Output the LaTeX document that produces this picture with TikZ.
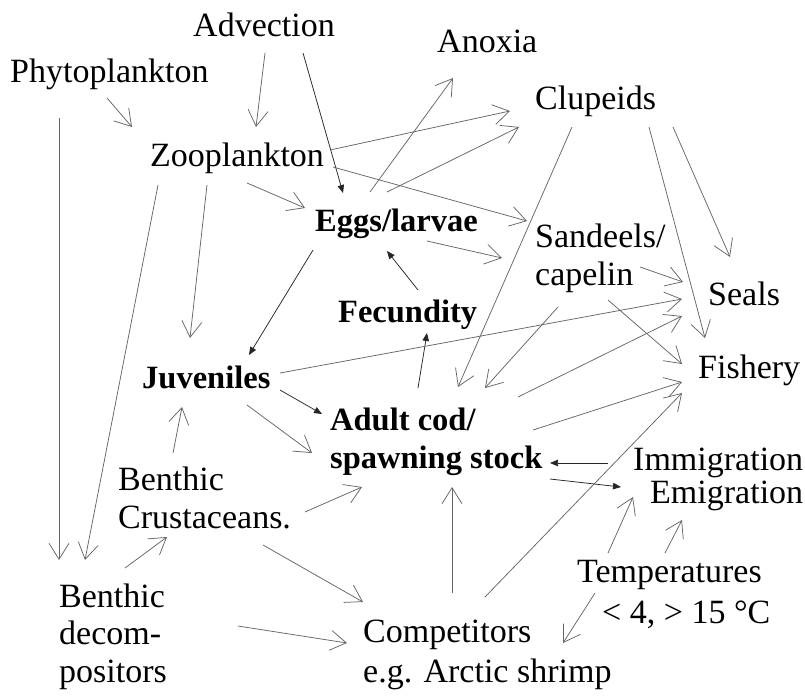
\documentclass[tikz,border=0pt]{standalone}
\usepackage{fontspec}
\setmainfont{Liberation Serif}
\usetikzlibrary{arrows.meta}
\newcommand{\mlines}[1]{\begin{tabular}[t]{@{}l@{}}#1\end{tabular}}
\begin{document}
\begin{tikzpicture}[x=1pt,y=-1pt,
  lbl/.style={anchor=base west,inner sep=0pt,font=\fontsize{34}{38.5}\selectfont},
  blbl/.style={lbl,font=\fontsize{32.5}{38}\selectfont\bfseries},
  oa/.style={draw=black!60,line width=0.75pt,-{Straight Barb[length=16pt,width=20pt,line width=0.75pt]}},
  fa/.style={draw=black!85,line width=0.75pt,-{Triangle[length=8pt,width=6.5pt]}}]
\useasboundingbox[fill=white] (0,0) rectangle (805,696);
% nodes
\node[lbl] (adv) at (193,36) {Advection};
\node[lbl] (phy) at (10,82) {Phytoplankton};
\node[lbl] (zoo) at (150,166) {Zooplankton};
\node[blbl] (egg) at (315,231) {Eggs/larvae};
\node[lbl] (anox) at (437,52) {Anoxia};
\node[lbl] (clu) at (535,109) {Clupeids};
\node[lbl] (sand) at (535,247) {\mlines{Sandeels/\\capelin}};
\node[lbl] (seal) at (708,305) {Seals};
\node[lbl] (fish) at (698,378) {Fishery};
\node[blbl] (fec) at (338,322) {Fecundity};
\node[blbl] (juv) at (142,388) {Juveniles};
\node[blbl] (adult) at (330,430) {\mlines{Adult cod/\\spawning stock}};
\node[lbl] (immig) at (633,470) {Immigration};
\node[lbl] (emig) at (650,503) {Emigration};
\node[lbl] (bcru) at (118,490) {\mlines{Benthic\\Crustaceans.}};
\node[lbl] (bdec) at (59,607) {\mlines{Benthic\\[-1pt]decom-\\[-1pt]positors}};
\node[lbl] (comp) at (363,642) {\mlines{Competitors\\[1.5pt]e.g. Arctic shrimp}};
\node[lbl] (temp) at (577,582) {\mlines{Temperatures\\[2.5pt]\hspace*{25pt}< 4, > 15 °C}};
% connectors
\draw[oa] ([shift={(72,17)}]adv.base west) -- ([shift={(106,-39)}]zoo.base west);
\draw[fa] ([shift={(110,17)}]adv.base west) -- ([shift={(28,-38)}]egg.base west);
\draw[oa] ([shift={(97,16)}]phy.base west) -- ([shift={(-18,-39)}]zoo.base west);
\draw[oa] ([shift={(49,36)}]phy.base west) -- ([shift={(0,-47)}]bdec.base west);
\draw[oa] ([shift={(8,19)}]zoo.base west) -- ([shift={(26,-47)}]bdec.base west);
\draw[oa] ([shift={(57,19)}]zoo.base west) -- ([shift={(48,-50)}]juv.base west);
\draw[oa] ([shift={(97,17)}]zoo.base west) -- ([shift={(-10,-23)}]egg.base west);
\draw[oa] ([shift={(180,-16)}]zoo.base west) -- ([shift={(-25,2)}]clu.base west);
\draw[oa] ([shift={(183,1)}]zoo.base west) -- ([shift={(-8,-26)}]sand.base west);
\draw[oa] ([shift={(55,-39)}]egg.base west) -- ([shift={(16,26)}]anox.base west);
\draw[oa] ([shift={(72,-39)}]egg.base west) -- ([shift={(-16,18)}]clu.base west);
\draw[oa] ([shift={(112,10)}]egg.base west) -- ([shift={(-33,11)}]sand.base west);
\draw[fa] ([shift={(-2,19)}]egg.base west) -- ([shift={(107,-33)}]juv.base west);
\draw[fa] ([shift={(80,-32)}]fec.base west) -- ([shift={(72,20)}]egg.base west);
\draw[fa] ([shift={(88,-42)}]adult.base west) -- ([shift={(89,11)}]fec.base west);
\draw[oa] ([shift={(138,-15)}]juv.base west) -- ([shift={(-26,-6)}]seal.base west);
\draw[fa] ([shift={(138,2)}]juv.base west) -- ([shift={(-8,-16)}]adult.base west);
\draw[oa] ([shift={(105,17)}]juv.base west) -- ([shift={(-18,23)}]adult.base west);
\draw[oa] ([shift={(55,-37)}]bcru.base west) -- ([shift={(40,19)}]juv.base west);
\draw[oa] ([shift={(66,-39)}]bdec.base west) -- ([shift={(49,47)}]bcru.base west);
\draw[oa] ([shift={(187,22)}]bcru.base west) -- ([shift={(32,57)}]adult.base west);
\draw[oa] ([shift={(145,55)}]bcru.base west) -- ([shift={(0,-40)}]comp.base west);
\draw[oa] ([shift={(179,19)}]bdec.base west) -- ([shift={(-16,1)}]comp.base west);
\draw[oa] ([shift={(89,-49)}]comp.base west) -- ([shift={(122,57)}]adult.base west);
\draw[oa] ([shift={(122,-45)}]comp.base west) -- ([shift={(-16,15)}]fish.base west);
\draw[oa] ([shift={(203,0)}]adult.base west) -- ([shift={(-16,4)}]fish.base west);
\draw[oa] ([shift={(188,-33)}]adult.base west) -- ([shift={(-26,11)}]seal.base west);
\draw[oa] ([shift={(105,20)}]sand.base west) -- ([shift={(-25,-23)}]seal.base west);
\draw[oa] ([shift={(73,53)}]sand.base west) -- ([shift={(-16,-14)}]fish.base west);
\draw[oa] ([shift={(23,60)}]sand.base west) -- ([shift={(155,-42)}]adult.base west);
\draw[oa] ([shift={(37,18)}]clu.base west) -- ([shift={(128,-43)}]adult.base west);
\draw[oa] ([shift={(114,18)}]clu.base west) -- ([shift={(7,-40)}]fish.base west);
\draw[oa] ([shift={(138,18)}]clu.base west) -- ([shift={(22,-48)}]seal.base west);
\draw[fa] ([shift={(-25,-7)}]immig.base west) -- ([shift={(220,33)}]adult.base west);
\draw[fa] ([shift={(220,49)}]adult.base west) -- ([shift={(-29,-16)}]emig.base west);
\draw[oa] ([shift={(31,-29)}]temp.base west) -- ([shift={(-17,-6)}]emig.base west);
\draw[oa] ([shift={(88,-29)}]temp.base west) -- ([shift={(32,17)}]emig.base west);
\draw[oa] ([shift={(18,11)}]temp.base west) -- ([shift={(200,1)}]comp.base west);
\end{tikzpicture}
\end{document}
